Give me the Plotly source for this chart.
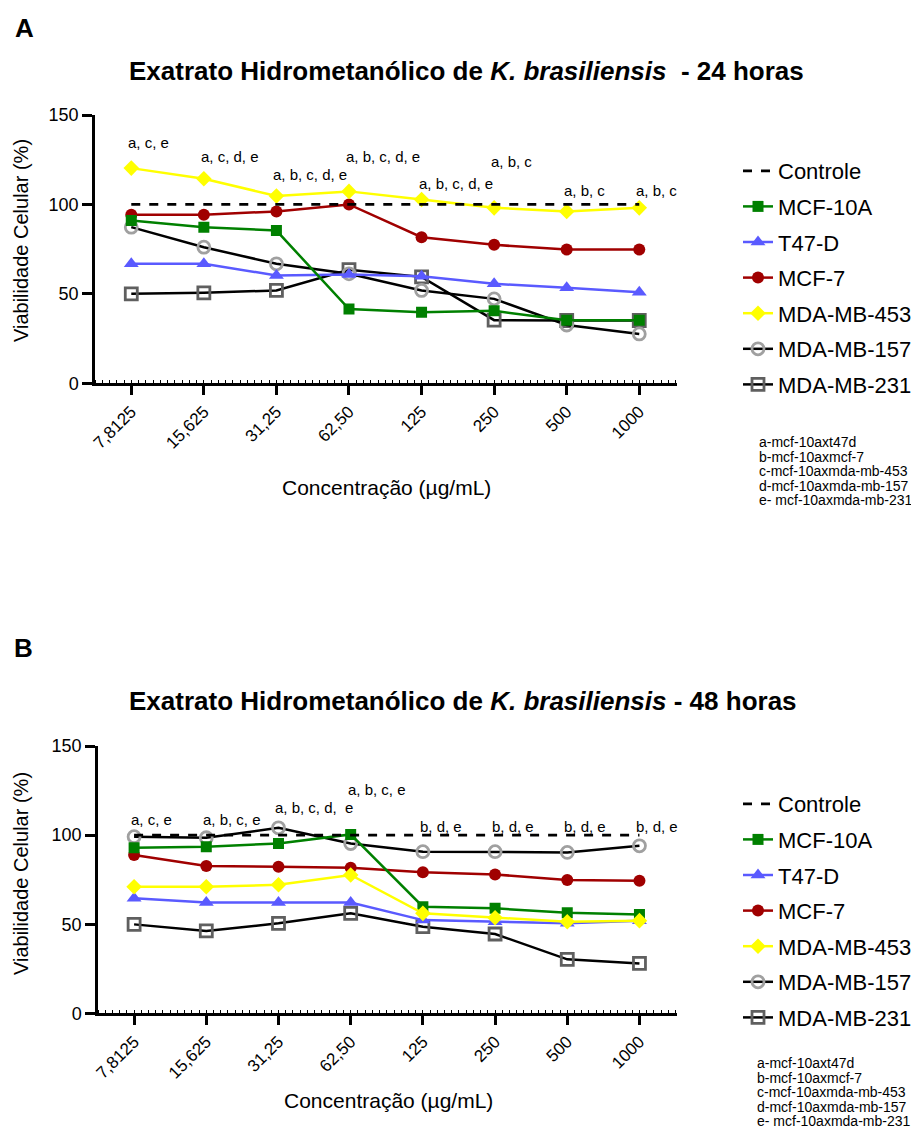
import plotly.graph_objects as go

# page is drawn with an 8px body margin: build the figure in reference pixel
# coordinates and shift by that margin
OX, OY = 8, 8
W, H = 911, 1138

concentracoes = ["7,8125", "15,625", "31,25", "62,50", "125", "250", "500", "1000"]
pos = [0, 1, 2, 3, 4, 5, 6, 7]

controle = [100, 100, 100, 100, 100, 100, 100, 100]

# 24 horas
mcf10a_24 = [91.0, 87.3, 85.4, 41.5, 39.7, 40.5, 35.2, 35.2]
t47d_24 = [66.8, 66.8, 60.3, 60.8, 59.9, 55.6, 53.4, 50.9]
mcf7_24 = [94.2, 94.2, 96.1, 100.0, 81.7, 77.4, 74.8, 74.8]
mda453_24 = [120.3, 114.4, 104.7, 107.3, 102.8, 98.1, 96.1, 98.1]
mda157_24 = [87.3, 76.1, 66.8, 61.2, 51.9, 47.2, 32.6, 27.6]
mda231_24 = [50.0, 50.6, 51.9, 63.5, 59.5, 35.3, 35.1, 35.1]
sig_24 = ["a, c, e", "a, c, d, e", "a, b, c, d, e", "a, b, c, d, e",
          "a, b, c, d, e", "a, b, c", "a, b, c", "a, b, c"]
sig_24_y = [134.5, 126.9, 116.8, 126.9, 111.9, 124.0, 107.8, 107.8]

# 48 horas
mcf10a_48 = [92.9, 93.5, 95.3, 100.4, 59.8, 58.9, 56.4, 55.5]
t47d_48 = [64.5, 62.2, 62.2, 62.2, 52.3, 51.4, 50.5, 52.0]
mcf7_48 = [88.8, 82.6, 82.2, 81.7, 79.1, 77.9, 74.8, 74.4]
mda453_48 = [71.0, 71.0, 72.1, 77.6, 56.1, 53.6, 51.4, 52.0]
mda157_48 = [99.1, 98.5, 104.1, 95.3, 90.7, 90.7, 90.3, 94.0]
mda231_48 = [49.9, 46.2, 50.5, 56.1, 48.6, 44.5, 30.3, 28.0]
sig_48 = ["a, c, e", "a, b, c, e", "a, b, c, d,\u00a0 e", "a, b, c, e",
          "b, d, e", "b, d, e", "b, d, e", "b, d, e"]
sig_48_y = [109.0, 109.0, 115.3, 125.6, 104.7, 104.7, 104.7, 104.7]

footnotes = ["a-mcf-10axt47d", "b-mcf-10axmcf-7", "c-mcf-10axmda-mb-453",
             "d-mcf-10axmda-mb-157", "e- mcf-10axmda-mb-231"]

FONT = "Arial, Liberation Sans, sans-serif"


def px(x):
    return (x - OX) / W


def py(y):
    return 1 - (y - OY) / H


fig = go.Figure()


def add_panel(xa, ya, leg, data):
    c, m10, t47, m7, m453, m157, m231 = data
    common = dict(xaxis=xa, yaxis=ya, legend=leg, mode="lines+markers")
    fig.add_trace(go.Scatter(x=pos, y=m231, name="MDA-MB-231", legendrank=7,
                             line=dict(color="black", width=2.5),
                             marker=dict(symbol="square-open", size=12, color="#5f5f5f",
                                         line=dict(width=2.8, color="#5f5f5f")),
                             legendgroup=leg + "g7", **common))
    fig.add_trace(go.Scatter(x=pos, y=m157, name="MDA-MB-157", legendrank=6,
                             line=dict(color="black", width=2.5),
                             marker=dict(symbol="circle-open", size=12, color="#a0a0a0",
                                         line=dict(width=2.8, color="#a0a0a0")),
                             legendgroup=leg + "g6", **common))
    fig.add_trace(go.Scatter(x=pos, y=t47, name="T47-D", legendrank=3,
                             line=dict(color="#5a5aff", width=2.5),
                             marker=dict(symbol="triangle-up", size=13, color="#5a5aff"),
                             legendgroup=leg + "g3", **common))
    fig.add_trace(go.Scatter(x=pos, y=m7, name="MCF-7", legendrank=4,
                             line=dict(color="#a00000", width=2.5),
                             marker=dict(symbol="circle", size=12, color="#a00000"),
                             legendgroup=leg + "g4", **common))
    fig.add_trace(go.Scatter(x=pos, y=m10, name="MCF-10A", legendrank=2,
                             line=dict(color="#008000", width=2.5),
                             marker=dict(symbol="square", size=11, color="#008000"),
                             legendgroup=leg + "g2", **common))
    fig.add_trace(go.Scatter(x=pos, y=m453, name="MDA-MB-453", legendrank=5,
                             line=dict(color="#ffff00", width=2.5),
                             marker=dict(symbol="diamond", size=12, color="#ffff00"),
                             legendgroup=leg + "g5", **common))
    fig.add_trace(go.Scatter(x=pos, y=c, name="Controle", legendrank=1,
                             xaxis=xa, yaxis=ya, legend=leg, mode="lines",
                             line=dict(color="black", width=2.8, dash="dash"),
                             legendgroup=leg + "g1"))


add_panel("x", "y", "legend",
          (controle, mcf10a_24, t47d_24, mcf7_24, mda453_24, mda157_24, mda231_24))
add_panel("x2", "y2", "legend2",
          (controle, mcf10a_48, t47d_48, mcf7_48, mda453_48, mda157_48, mda231_48))

xcommon = dict(range=[-0.5, 7.52], tickmode="array", tickvals=pos, ticktext=concentracoes,
               tickangle=-45, ticks="outside", ticklen=9, tickwidth=2.5, tickcolor="black",
               showline=True, linewidth=2.5, linecolor="black", showgrid=False, zeroline=False,
               automargin=False,
               tickfont=dict(family=FONT, size=17, color="black"),
               minor=dict(tickmode="linear", tick0=0, dtick=0.1, ticks="inside",
                          ticklen=4, tickwidth=1.3, tickcolor="black", showgrid=False))
ycommon = dict(range=[0, 150], tickmode="array", tickvals=[0, 50, 100, 150],
               ticks="outside", ticklen=10, tickwidth=2.5, tickcolor="black",
               showline=True, linewidth=2.5, linecolor="black", showgrid=False, zeroline=False,
               automargin=False,
               tickfont=dict(family=FONT, size=18, color="black"))

legcommon = dict(xanchor="left", yanchor="top", bgcolor="rgba(0,0,0,0)",
                 font=dict(family=FONT, size=22, color="black"),
                 tracegroupgap=4, itemwidth=30)

fig.update_layout(
    template="none",
    width=W, height=H, margin=dict(l=0, r=0, t=0, b=0, pad=0, autoexpand=False),
    paper_bgcolor="white", plot_bgcolor="white",
    font=dict(family=FONT, color="black"),
    xaxis=dict(domain=[px(95), px(677)], anchor="y", **xcommon),
    yaxis=dict(domain=[py(383.3), py(115)], anchor="x", **ycommon),
    xaxis2=dict(domain=[px(98), px(677)], anchor="y2", **xcommon),
    yaxis2=dict(domain=[py(1013.3), py(746)], anchor="x2", **ycommon),
    legend=dict(x=px(738), y=py(150), **legcommon),
    legend2=dict(x=px(738), y=py(783), **legcommon),
)

ann = []


def pann(text, x, y, size, bold=False, angle=0, xanchor="center"):
    ann.append(dict(text=text, x=px(x), y=py(y), xref="paper", yref="paper",
                    showarrow=False, xanchor=xanchor, yanchor="middle", textangle=angle,
                    font=dict(family=FONT, size=size, color="black")))


pann("<b>A</b>", 24, 28, 26)
pann("<b>B</b>", 23, 648, 26)
pann("<b>Exatrato Hidrometanólico de <i>K. brasiliensis</i>\u00a0 - 24 horas</b>", 466, 71, 26)
pann("<b>Exatrato Hidrometanólico de <i>K. brasiliensis</i> - 48 horas</b>", 463, 701, 26)
pann("Viabilidade Celular (%)", 21, 241, 20, angle=-90)
pann("Viabilidade Celular (%)", 21, 874, 20, angle=-90)
pann("Concentração (µg/mL)", 386, 487, 21)
pann("Concentração (µg/mL)", 388, 1100, 21)

for xr, yr, labels, ys in (("x", "y", sig_24, sig_24_y), ("x2", "y2", sig_48, sig_48_y)):
    for p, t, yv in zip(pos, labels, ys):
        ann.append(dict(text=t, x=p, y=yv, xref=xr, yref=yr, showarrow=False,
                        xanchor="left", yanchor="middle", xshift=-5,
                        font=dict(family=FONT, size=15, color="black")))

for y0, x0 in ((442, 757), (1063, 755)):
    for i, t in enumerate(footnotes):
        pann(t, x0, y0 + i * 14.6, 14, xanchor="left")

fig.update_layout(annotations=ann)

fig.write_html("out.html")
